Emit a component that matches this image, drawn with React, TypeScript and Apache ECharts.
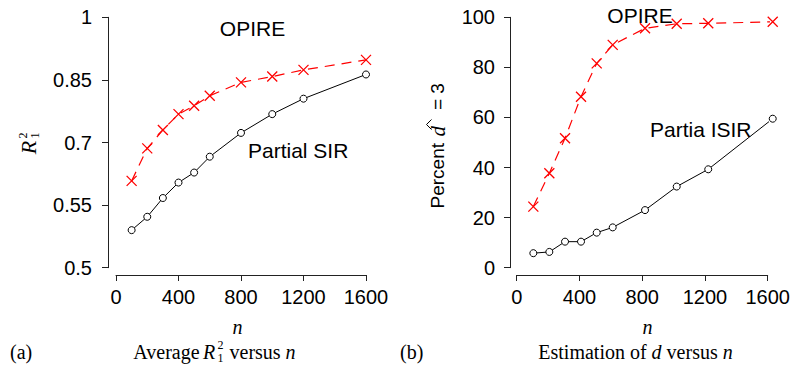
import React, { useEffect, useRef } from "react";
import * as echarts from "echarts";

// ---- data ----
const nLeft = [100, 200, 300, 400, 500, 600, 800, 1000, 1200, 1600];
const r2Partial = [0.49, 0.522, 0.567, 0.604, 0.628, 0.666, 0.723, 0.768, 0.805, 0.863];
const r2Opire = [0.608, 0.686, 0.73, 0.768, 0.788, 0.812, 0.844, 0.858, 0.874, 0.898];

const nRight = [106, 208, 308, 410, 510, 612, 818, 1020, 1221, 1632];
const pctPartial = [5.8, 6.3, 10.4, 10.4, 14.0, 16.1, 23.0, 32.4, 39.3, 59.5];
const pctOpire = [24.4, 37.7, 51.7, 68.3, 81.6, 89.0, 95.6, 97.4, 97.6, 98.2];

const xTicks = [0, 400, 800, 1200, 1600];
const yTicksLeftValues = [0.4, 0.55, 0.7, 0.85, 1];
const yTicksLeftLabels = ["0.5", "0.55", "0.7", "0.85", "1"];
const yTicksRight = [0, 20, 40, 60, 80, 100];

const SANS = '"Liberation Sans", Arial, Helvetica, sans-serif';
const SERIF = '"Liberation Serif", "Times New Roman", serif';
const AXIS_COLOR = "#222";
const CROSS = "path://M0,0L10,10M10,0L0,10";

function zip(xs: number[], ys: number[]) {
  return xs.map((x, i) => [x, ys[i]]);
}

function xAxisCfg(gridIndex: number, offset: number) {
  return {
    type: "value",
    gridIndex,
    min: xTicks[0],
    max: xTicks[xTicks.length - 1],
    interval: 400,
    offset,
    axisLine: { show: true, onZero: false, lineStyle: { color: AXIS_COLOR, width: 1 } },
    axisTick: { show: true, length: 6, lineStyle: { color: AXIS_COLOR, width: 1 } },
    axisLabel: {
      color: "#000",
      fontSize: 20,
      fontFamily: SANS,
      margin: 12,
      formatter: (v: number) => String(v),
    },
    splitLine: { show: false },
  };
}

function txt(x: number, y: number, style: any, extra: any = {}) {
  return { type: "text", x, y, z: 100, style: { fill: "#000", ...style }, ...extra };
}

export default function App() {
  const ref = useRef<HTMLDivElement>(null);

  useEffect(() => {
    if (!ref.current) return;
    const chart = echarts.init(ref.current, undefined, { renderer: "svg" });

    const option: any = {
      animation: false,
      backgroundColor: "#fff",
      grid: [
        { left: 116, top: 17.3, width: 250, height: 250.4 },
        { left: 516.7, top: 17.3, width: 251, height: 250.4 },
      ],
      xAxis: [xAxisCfg(0, 7.3), xAxisCfg(1, 7.3)],
      yAxis: [
        {
          type: "value",
          gridIndex: 0,
          min: 0.4,
          max: 1,
          offset: 8,
          axisLine: { show: true, onZero: false, lineStyle: { color: AXIS_COLOR, width: 1 } },
          axisTick: { show: true, length: 6, customValues: yTicksLeftValues, lineStyle: { color: AXIS_COLOR } },
          axisLabel: {
            customValues: yTicksLeftValues,
            color: "#000",
            fontSize: 20,
            fontFamily: SANS,
            margin: 16,
            formatter: (v: number) => {
              const i = yTicksLeftValues.findIndex((t) => Math.abs(t - v) < 1e-6);
              return i >= 0 ? yTicksLeftLabels[i] : "";
            },
          },
          splitLine: { show: false },
        },
        {
          type: "value",
          gridIndex: 1,
          min: yTicksRight[0],
          max: yTicksRight[yTicksRight.length - 1],
          interval: 20,
          offset: 6.7,
          axisLine: { show: true, onZero: false, lineStyle: { color: AXIS_COLOR, width: 1 } },
          axisTick: { show: true, length: 6, lineStyle: { color: AXIS_COLOR } },
          axisLabel: { color: "#000", fontSize: 20, fontFamily: SANS, margin: 15 },
          splitLine: { show: false },
        },
      ],
      series: [
        {
          name: "OPIRE (a)",
          type: "line",
          xAxisIndex: 0,
          yAxisIndex: 0,
          data: zip(nLeft, r2Opire),
          symbol: CROSS,
          symbolSize: 10,
          clip: false,
          lineStyle: { color: "#ff0000", width: 1.2, type: [10, 7] },
          itemStyle: { color: "none", borderColor: "#ff0000", borderWidth: 1.3 },
        },
        {
          name: "Partial SIR (a)",
          type: "line",
          xAxisIndex: 0,
          yAxisIndex: 0,
          data: zip(nLeft, r2Partial),
          symbol: "circle",
          symbolSize: 7,
          clip: false,
          lineStyle: { color: "#000", width: 1 },
          itemStyle: { color: "#fff", borderColor: "#000", borderWidth: 1 },
        },
        {
          name: "OPIRE (b)",
          type: "line",
          xAxisIndex: 1,
          yAxisIndex: 1,
          data: zip(nRight, pctOpire),
          symbol: CROSS,
          symbolSize: 10,
          clip: false,
          lineStyle: { color: "#ff0000", width: 1.2, type: [10, 7] },
          itemStyle: { color: "none", borderColor: "#ff0000", borderWidth: 1.3 },
        },
        {
          name: "Partial SIR (b)",
          type: "line",
          xAxisIndex: 1,
          yAxisIndex: 1,
          data: zip(nRight, pctPartial),
          symbol: "circle",
          symbolSize: 7,
          clip: false,
          lineStyle: { color: "#000", width: 1 },
          itemStyle: { color: "#fff", borderColor: "#000", borderWidth: 1 },
        },
      ],
      graphic: [
        // annotations
        txt(252.5, 28, { text: "OPIRE", fontSize: 21, fontFamily: SANS, align: "center", verticalAlign: "middle" }),
        txt(248, 150.5, { text: "Partial SIR", fontSize: 21, fontFamily: SANS, align: "left", verticalAlign: "middle" }),
        txt(640, 15.5, { text: "OPIRE", fontSize: 21, fontFamily: SANS, align: "center", verticalAlign: "middle" }),
        txt(650, 129.5, { text: "Partia ISIR", fontSize: 21, fontFamily: SANS, align: "left", verticalAlign: "middle" }),
        // axis titles n
        txt(237.5, 327, { text: "n", fontSize: 20, fontFamily: SERIF, fontStyle: "italic", align: "center", verticalAlign: "middle" }),
        txt(647.5, 327, { text: "n", fontSize: 20, fontFamily: SERIF, fontStyle: "italic", align: "center", verticalAlign: "middle" }),
        // left y title R^2_1
        {
          type: "group",
          x: 28.5,
          y: 147.5,
          rotation: Math.PI / 2,
          z: 100,
          children: [
            txt(0, 0, { text: "R", fontSize: 22, fontFamily: SERIF, fontStyle: "italic", align: "center", verticalAlign: "middle" }),
            txt(12, -6, { text: "2", fontSize: 12, fontFamily: SERIF, align: "center", verticalAlign: "middle" }),
            txt(12, 6, { text: "1", fontSize: 12, fontFamily: SERIF, align: "center", verticalAlign: "middle" }),
          ],
        },
        // right y title Percent d-hat = 3
        {
          type: "group",
          x: 437,
          y: 147.5,
          rotation: Math.PI / 2,
          z: 100,
          children: [
            txt(4.5, 0, { text: "Percent", fontSize: 19, fontFamily: SANS, align: "right", verticalAlign: "middle" }),
            txt(11, 0.5, { text: "d", fontSize: 21, fontFamily: SERIF, fontStyle: "italic", align: "left", verticalAlign: "middle" }),
            {
              type: "polyline",
              z: 100,
              shape: { points: [[18, -5.5], [23, -10.5], [28, -5.5]] },
              style: { stroke: "#000", lineWidth: 1, fill: "none" },
            },
            txt(37.5, 0, { text: "= 3", fontSize: 19, fontFamily: SANS, align: "left", verticalAlign: "middle" }),
          ],
        },
        // captions
        txt(10, 352, { text: "(a)", fontSize: 20, fontFamily: SERIF, align: "left", verticalAlign: "middle" }),
        txt(133.3, 352, { text: "Average", fontSize: 20, fontFamily: SERIF, align: "left", verticalAlign: "middle" }),
        txt(203, 352, { text: "R", fontSize: 20, fontFamily: SERIF, fontStyle: "italic", align: "left", verticalAlign: "middle" }),
        txt(220.5, 344.5, { text: "2", fontSize: 12, fontFamily: SERIF, align: "center", verticalAlign: "middle" }),
        txt(220.5, 357.5, { text: "1", fontSize: 12, fontFamily: SERIF, align: "center", verticalAlign: "middle" }),
        txt(229.5, 352, {
          text: "versus {i|n}",
          fontSize: 20,
          fontFamily: SERIF,
          align: "left",
          verticalAlign: "middle",
          rich: { i: { fontSize: 20, fontFamily: SERIF, fontStyle: "italic" } },
        }),
        txt(400, 352, { text: "(b)", fontSize: 20, fontFamily: SERIF, align: "left", verticalAlign: "middle" }),
        txt(538.3, 352, {
          text: "Estimation of {i|d} versus {i|n}",
          fontSize: 20,
          fontFamily: SERIF,
          align: "left",
          verticalAlign: "middle",
          rich: { i: { fontSize: 20, fontFamily: SERIF, fontStyle: "italic" } },
        }),
      ],
    };

    chart.setOption(option);
    return () => chart.dispose();
  }, []);

  return (
    <div
      ref={ref}
      style={{ position: "absolute", left: 0, top: 0, width: 794, height: 370, background: "#fff" }}
    />
  );
}
